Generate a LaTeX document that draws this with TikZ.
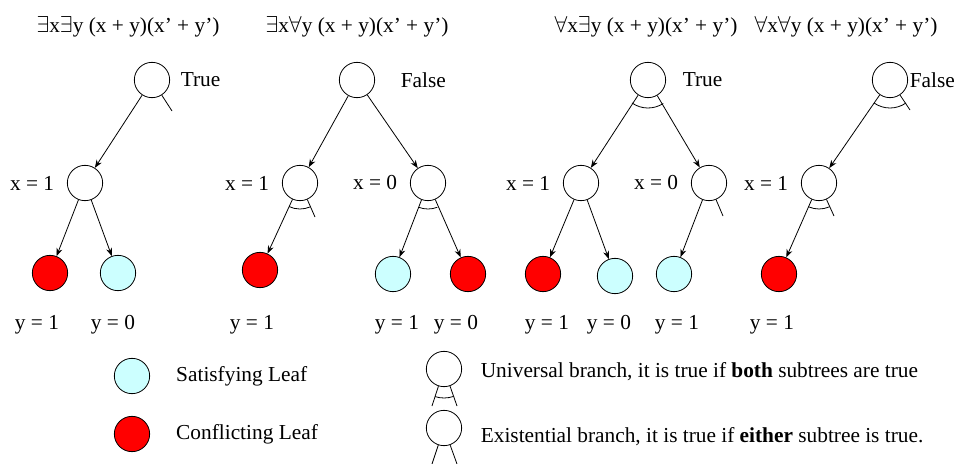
\documentclass[tikz,border=0pt]{standalone}
\usepackage{fontspec}
\setmainfont{Liberation Serif}
\usepackage{amssymb}
\usetikzlibrary{arrows.meta, positioning}
\definecolor{satcyan}{RGB}{204,255,255}

\begin{document}
\begin{tikzpicture}[x=0.75pt, y=0.75pt, >={Stealth[length=6pt,width=4.5pt]},
	line width=0.6pt, font=\fontsize{16}{19}\selectfont,
	qnode/.style={circle, draw, minimum size=26.5pt, inner sep=0pt},
	satleaf/.style={qnode, fill=satcyan},
	conleaf/.style={qnode, fill=red}]
	\useasboundingbox (0,0) rectangle (958,-464);
	% formulas
	\node (f1) at (128,-27) {$\exists$x$\exists$y (x + y)(x’ + y’)};
	\node (f2) at (357,-27) {$\exists$x$\forall$y (x + y)(x’ + y’)};
	\node (f3) at (646,-27) {$\forall$x$\exists$y (x + y)(x’ + y’)};
	\node (f4) at (846,-27) {$\forall$x$\forall$y (x + y)(x’ + y’)};
	% tree 1
	\node[qnode] (a0) at (152,-80) {};
	\node[anchor=west] (a0t) at (176,-80) {True};
	\node[qnode] (a1) at (85,-183) {};
	\node[left=6pt of a1] (a1t) {x = 1};
	\node[conleaf] (a11) at (50,-273) {};
	\node[satleaf] (a10) at (118,-273) {};
	\node (a11t) at (37,-325) {y = 1};
	\node (a10t) at (113,-325) {y = 0};
	\coordinate (a0s) at (172,-111);
	\draw[->] (a0) -- (a1);
	\draw (a0) -- (a0s);
	\draw[->] (a1) -- (a11);
	\draw[->] (a1) -- (a10);
	% tree 2
	\node[qnode] (b0) at (357,-80) {};
	\node[anchor=west] (b0t) at (396,-80) {False};
	\node[qnode] (b1) at (300,-183) {};
	\node[left=6pt of b1] (b1t) {x = 1};
	\node[qnode] (b2) at (428,-183) {};
	\node[left=6pt of b2] (b2t) {x = 0};
	\node[conleaf] (b11) at (260,-270) {};
	\node[satleaf] (b21) at (393,-274) {};
	\node[conleaf] (b20) at (468,-274) {};
	\node (b11t) at (252,-325) {y = 1};
	\node (b21t) at (397,-325) {y = 1};
	\node (b20t) at (456,-325) {y = 0};
	\coordinate (b1s) at (315,-217);
	\draw[->] (b0) -- (b1);
	\draw[->] (b0) -- (b2);
	\draw[->] (b1) -- (b11);
	\draw (b1) -- (b1s);
	\draw[->] (b2) -- (b21);
	\draw[->] (b2) -- (b20);
	\draw (b1.center) ++(-115:26) arc[start angle=-115, end angle=-66, radius=26];
	\draw (b2.center) ++(-111:26) arc[start angle=-111, end angle=-69, radius=26];
	% tree 3
	\node[qnode] (c0) at (648,-80) {};
	\node[anchor=west] (c0t) at (678,-80) {True};
	\node[qnode] (c1) at (581,-183) {};
	\node[left=6pt of c1] (c1t) {x = 1};
	\node[qnode] (c2) at (709,-183) {};
	\node[left=6pt of c2] (c2t) {x = 0};
	\node[conleaf] (c11) at (543,-274) {};
	\node[satleaf] (c10) at (615,-276) {};
	\node[satleaf] (c21) at (674,-274) {};
	\node (c11t) at (547,-325) {y = 1};
	\node (c10t) at (609,-325) {y = 0};
	\node (c21t) at (677,-325) {y = 1};
	\coordinate (c2s) at (723,-216);
	\draw[->] (c0) -- (c1);
	\draw[->] (c0) -- (c2);
	\draw[->] (c1) -- (c11);
	\draw[->] (c1) -- (c10);
	\draw[->] (c2) -- (c21);
	\draw (c2) -- (c2s);
	\draw (c0.center) ++(-125:28) arc[start angle=-125, end angle=-57, radius=28];
	% tree 4
	\node[qnode] (d0) at (890,-80) {};
	\node[anchor=west] (d0t) at (905,-80) {False};
	\node[qnode] (d1) at (819,-183) {};
	\node[left=6pt of d1] (d1t) {x = 1};
	\node[conleaf] (d11) at (779,-274) {};
	\node (d11t) at (772,-325) {y = 1};
	\coordinate (d0s) at (910,-110);
	\coordinate (d1s) at (834,-216);
	\draw[->] (d0) -- (d1);
	\draw (d0) -- (d0s);
	\draw[->] (d1) -- (d11);
	\draw (d1) -- (d1s);
	\draw (d0.center) ++(-125:28) arc[start angle=-125, end angle=-55, radius=28];
	\draw (d1.center) ++(-114:26) arc[start angle=-114, end angle=-66, radius=26];
	% legend
	\node[satleaf] (ks) at (132,-376) {};
	\node[right=16pt of ks] (kst) {Satisfying Leaf};
	\node[conleaf] (kc) at (132,-434) {};
	\node[right=16pt of kc] (kct) {Conflicting Leaf};
	\node[qnode] (ku) at (444,-369) {};
	\coordinate (kul) at (432,-406);
	\coordinate (kur) at (457,-406);
	\draw (ku) -- (kul);
	\draw (ku) -- (kur);
	\draw (ku.center) ++(-108:29) arc[start angle=-108, end angle=-71, radius=29];
	\node[anchor=west] (kut) at (476,-372)
		{Universal branch, it is true if \textbf{both} subtrees are true};
	\node[qnode] (ke) at (444,-428) {};
	\coordinate (kel) at (432,-464);
	\coordinate (ker) at (457,-464);
	\draw (ke) -- (kel);
	\draw (ke) -- (ker);
	\node[anchor=west] (ket) at (476,-437)
		{Existential branch, it is true if \textbf{either} subtree is true.};
\end{tikzpicture}
\end{document}
